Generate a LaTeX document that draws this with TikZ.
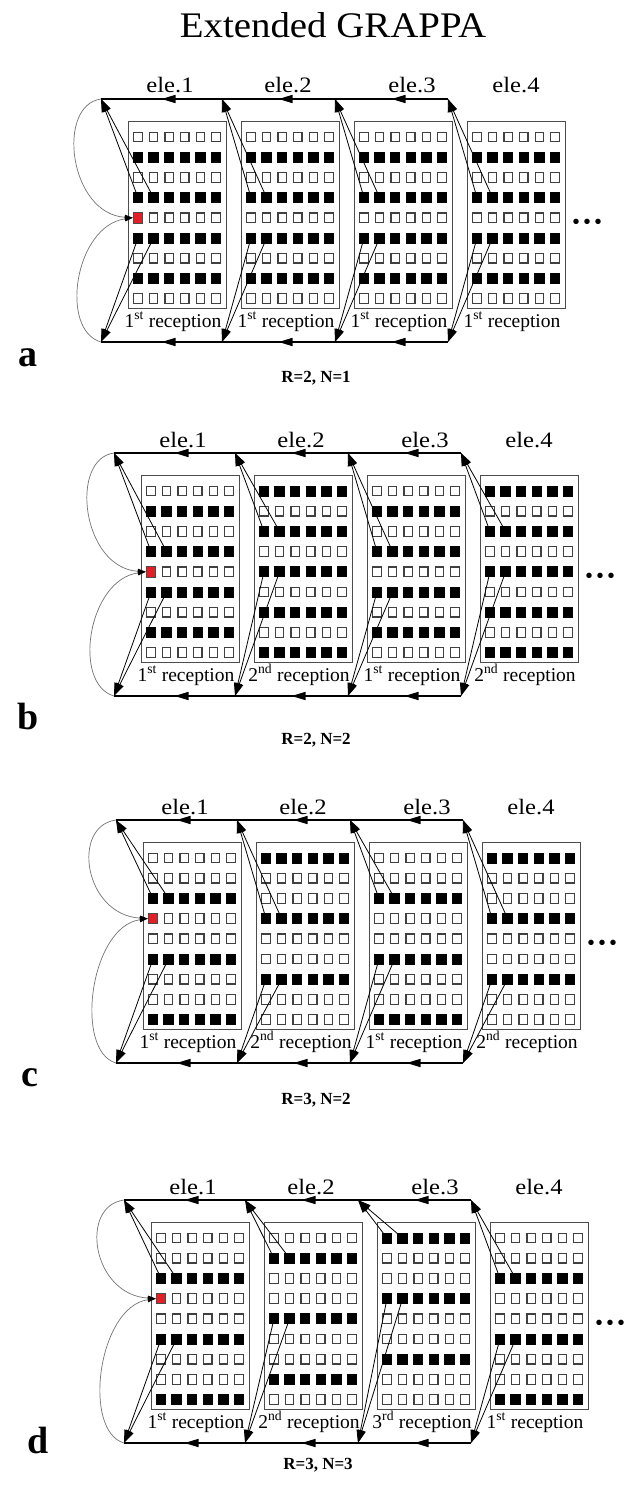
\documentclass[tikz,border=0pt]{standalone}
\usepackage{fontspec}
\setmainfont{Liberation Serif}
\newfontfamily\titlefont{Liberation Serif}[FakeStretch=1.08]
\newfontfamily\elefont{Liberation Serif}[FakeStretch=1.12]
\usetikzlibrary{arrows.meta,decorations.markings}
\definecolor{targetred}{RGB}{228,30,36}

\begin{document}
\begin{tikzpicture}[x=1pt, y=-1pt,
    gridbox/.style={draw=black!70, line width=1.2pt, minimum width=98pt,
      minimum height=187pt, inner sep=0pt, anchor=north west},
    skipcell/.style={draw=black!75, fill=white, line width=1.2pt,
      minimum width=8.5pt, minimum height=9.5pt, inner sep=0pt},
    acqcell/.style={fill=black, minimum width=10.5pt, minimum height=11pt,
      inner sep=0pt},
    targetcell/.style={draw=black!70, fill=targetred, line width=0.8pt,
      minimum width=9.5pt, minimum height=10.5pt, inner sep=0pt},
    feed/.style={-{Triangle[length=13pt,width=8pt]}, line width=0.8pt},
    rail/.style={line width=1.5pt, postaction={decorate},
      decoration={markings, mark=at position 0.5 with
        {\arrow{Triangle[length=14pt,width=8pt]}}}},
    backcurve/.style={-{Triangle[length=8pt,width=5pt,black]}, draw=black!55,
      line width=0.7pt},
    elelabel/.style={font=\elefont\fontsize{22}{24}\selectfont, inner sep=0pt,
      anchor=base},
    reclabel/.style={font=\fontsize{19.5}{22}\selectfont, inner sep=0pt,
      anchor=base},
    panelname/.style={font=\bfseries\fontsize{38}{40}\selectfont, inner sep=0pt},
    setting/.style={font=\bfseries\fontsize{17}{19}\selectfont, inner sep=0pt}
  ]
  \useasboundingbox (0,0) rectangle (628,1493);

  \node[font=\titlefont\fontsize{36}{40}\selectfont, anchor=base] (title)
    at (333,38) {Extended GRAPPA};

  % panel / box1 left / box1 top / R / target row / boxes (k/offset/upper/lower/ordinal)
  \foreach \pn/\L/\T/\R/\t/\boxes in {
      a/128/121/2/4/{1/1/3/5/1/st,2/1/3/5/1/st,3/1/3/5/1/st,4/1/3/5/1/st},
      b/141/475/2/4/{1/1/3/5/1/st,2/0/2/4/2/nd,3/1/3/5/1/st,4/0/2/4/2/nd},
      c/143/842/3/3/{1/2/2/5/1/st,2/0/3/6/2/nd,3/2/2/5/1/st,4/0/3/6/2/nd},
      d/151/1222/3/3/{1/2/2/5/1/st,2/1/1/4/2/nd,3/0/0/3/3/rd,4/2/2/5/1/st}}{

    \foreach \k/\o/\u/\l/\n/\s in \boxes {
      \pgfmathsetmacro\bx{\L+113*(\k-1)}
      \pgfmathsetmacro\jx{\k==1 ? \L-27 : \bx-19}
      \pgfmathsetmacro\ex{\L+{42,160,284,388}[\k-1]}

      \node[gridbox] (\pn\k-box) at (\bx,\T) {};
      \coordinate (\pn\k-top) at (\jx,\T-22);
      \coordinate (\pn\k-bot) at (\jx,\T+221);

      \foreach \r in {0,...,8}
        \foreach \c in {0,...,5} {
          \pgfmathtruncatemacro\isacq{mod(\r+18-\o,\R)==0 ? 1 : 0}
          \pgfmathtruncatemacro\istarget{(\k==1 && \r==\t && \c==0) ? 1 : 0}
          \ifnum\istarget=1
            \node[targetcell] (\pn\k-\r-\c) at (\bx+10+15.6*\c,\T+16+20.2*\r) {};
          \else\ifnum\isacq=1
            \node[acqcell] (\pn\k-\r-\c) at (\bx+10+15.6*\c,\T+16+20.2*\r) {};
          \else
            \node[skipcell] (\pn\k-\r-\c) at (\bx+10+15.6*\c,\T+16+20.2*\r) {};
          \fi\fi
        }

      \draw[feed] (\pn\k-\u-0.center) -- (\pn\k-top);
      \draw[feed] (\pn\k-\u-1.center) -- (\pn\k-top);
      \draw[feed] (\pn\k-\l-0.center) -- (\pn\k-bot);
      \draw[feed] (\pn\k-\l-1.center) -- (\pn\k-bot);

      \node[elelabel] (\pn\k-ele) at (\ex,\T-28) {ele.\k};
      \node[reclabel] (\pn\k-rec) at (\bx+45,\T+206) {\n\textsuperscript{\s} reception};
    }

    \foreach \k [remember=\k as \j (initially 1)] in {2,3,4} {
      \draw[rail] (\pn\k-top) -- (\pn\j-top);
      \draw[rail] (\pn\k-bot) -- (\pn\j-bot);
    }

    \draw[backcurve] (\pn1-top) .. controls +(-45,6) and +(-64,-4) .. (\pn1-\t-0.west);
    \draw[backcurve] (\pn1-bot) .. controls +(-42,-12) and +(-58,8) .. (\pn1-\t-0.west);

    \node[font=\bfseries\fontsize{20}{20}\selectfont] (\pn-more) at (\L+459,\T+103)
      {\textbullet\hspace{4pt}\textbullet\hspace{4pt}\textbullet};
  }

  \node[panelname] (a-name) at (28,358) {a};
  \node[panelname] (b-name) at (28,716) {b};
  \node[panelname] (c-name) at (30,1078) {c};
  \node[panelname] (d-name) at (38,1440) {d};

  \node[setting] (a-setting) at (316,378) {R=2, N=1};
  \node[setting] (b-setting) at (316,740) {R=2, N=2};
  \node[setting] (c-setting) at (316,1100) {R=3, N=2};
  \node[setting] (d-setting) at (318,1465) {R=3, N=3};
\end{tikzpicture}
\end{document}
